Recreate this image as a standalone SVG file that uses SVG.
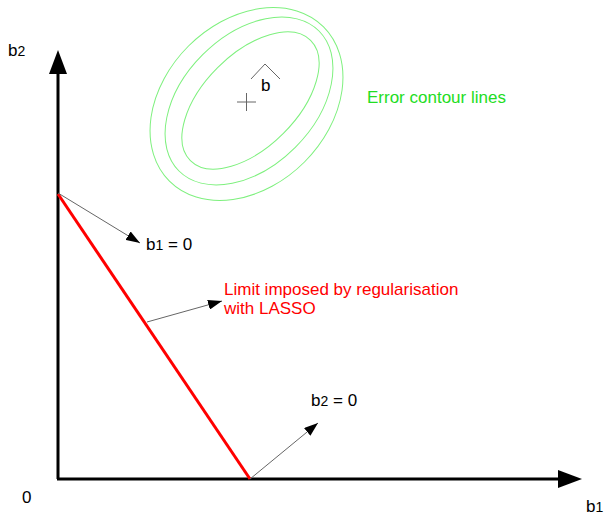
<svg xmlns="http://www.w3.org/2000/svg" width="607" height="516" viewBox="0 0 607 516">
<defs>
<style>
text{font-family:"Liberation Sans",Arial,sans-serif;font-size:17px;fill:#000}
.sub{font-size:14px}
.axis{stroke:#000;stroke-width:3;fill:none}
.thin{stroke:#666;stroke-width:1;fill:none}
.contour{stroke:#7ef07e;stroke-width:1;fill:none}
.red{fill:#ff0000}
.green{fill:#22dd22}
</style>
<marker id="ah" viewBox="0 0 14 10" refX="14" refY="5" markerWidth="14" markerHeight="10" markerUnits="userSpaceOnUse" orient="auto">
<path d="M0,0 L14,5 L0,10 Z" fill="#000"/>
</marker>
</defs>
<g id="axes">
<line class="axis" x1="58" y1="479" x2="58" y2="70"/>
<path d="M58,50 L49,74 L67,74 Z" fill="#000"/>
<line class="axis" x1="57" y1="479" x2="562" y2="479"/>
<path d="M582,479 L558,470 L558,488 Z" fill="#000"/>
<text x="8" y="56">b<tspan class="sub">2</tspan></text>
<text x="22" y="503">0</text>
<text x="586" y="512">b<tspan class="sub">1</tspan></text>
</g>
<g id="contours">
<ellipse class="contour" cx="246.5" cy="104" rx="109" ry="82" transform="rotate(-45 246.5 104)"/>
<ellipse class="contour" cx="249" cy="101" rx="99" ry="65.5" transform="rotate(-45 249 101)"/>
<ellipse class="contour" cx="250.5" cy="100.5" rx="85" ry="46.5" transform="rotate(-45 250.5 100.5)"/>
</g>
<g id="bhat">
<path class="thin" d="M237,102 H256 M246.5,93 V111"/>
<path class="thin" d="M251,79 L265,64 L280,79"/>
<text x="261" y="91">b</text>
</g>
<g id="contour-label">
<text class="green" x="367" y="103">Error contour lines</text>
</g>
<g id="lasso-limit">
<line x1="58" y1="194" x2="250" y2="479" stroke="#ff0000" stroke-width="3"/>
</g>
<g id="connectors">
<line class="thin" x1="58" y1="193" x2="140" y2="243" marker-end="url(#ah)"/>
<line class="thin" x1="147" y1="322" x2="222" y2="301" marker-end="url(#ah)"/>
<line class="thin" x1="250" y1="479" x2="318" y2="423" marker-end="url(#ah)"/>
</g>
<g id="label-b1">
<text x="146" y="250">b<tspan class="sub">1</tspan> = 0</text>
</g>
<g id="label-limit">
<text class="red" x="224" y="295">Limit imposed by regularisation</text>
<text class="red" x="224" y="314">with LASSO</text>
</g>
<g id="label-b2">
<text x="311" y="406">b<tspan class="sub">2</tspan> = 0</text>
</g>
</svg>
